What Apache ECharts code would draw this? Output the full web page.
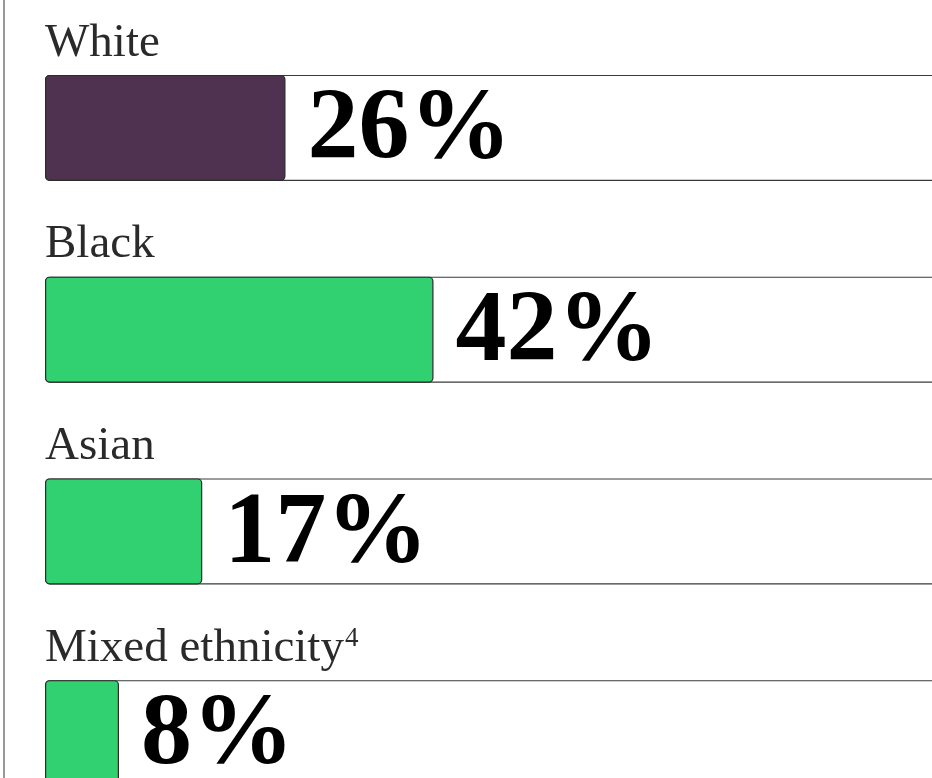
<!DOCTYPE html>
<html>
<head>
<meta charset="utf-8">
<style>
  html, body { margin: 0; padding: 0; background: #ffffff; }
  #chart { width: 932px; height: 778px; }
</style>
<script src="https://cdn.jsdelivr.net/npm/echarts@6/dist/echarts.min.js"></script>
</head>
<body>
<div id="chart"></div>
<script>
// Share of each ethnic group (percent)
const categories = ['White', 'Black', 'Asian', 'Mixed ethnicity'];
const footnotes = ['', '', '', '4'];
const values = [26, 42, 17, 8];
const barColors = ['#4f3250', '#31d071', '#31d071', '#31d071'];
const fullScale = 100;

const chart = echarts.init(document.getElementById('chart'), null, { renderer: 'canvas' });

const serif = '"Liberation Serif", "DejaVu Serif", serif';

chart.setOption({
  animation: false,
  backgroundColor: '#ffffff',
  // the tracks run past the right and bottom edges of the view
  grid: { left: 45, top: 27, width: 925, height: 807, outerBoundsMode: 'none', containLabel: false },
  xAxis: {
    type: 'value', min: 0, max: fullScale,
    show: false
  },
  yAxis: {
    type: 'category', data: categories, inverse: true,
    show: false
  },
  graphic: [{
    type: 'line',
    shape: { x1: 4, y1: 0, x2: 4, y2: 778 },
    style: { stroke: '#555555', lineWidth: 1.2 }
  }],
  series: [
    {
      // full-width track behind each bar, carrying the group name above it
      type: 'bar',
      data: categories.map(() => fullScale),
      barWidth: 106,
      barGap: '-100%',
      silent: true,
      itemStyle: { color: '#ffffff', borderColor: '#3a3a3a', borderWidth: 1.2, borderRadius: 4 },
      label: {
        show: true,
        position: [0, -8],
        align: 'left',
        verticalAlign: 'bottom',
        formatter: (p) => {
          const note = footnotes[p.dataIndex];
          return note ? p.name + '{sup|' + note + '}' : p.name;
        },
        fontFamily: serif,
        fontSize: 47,
        color: '#2a2a2a',
        rich: {
          sup: { fontFamily: serif, fontSize: 27, color: '#2a2a2a', verticalAlign: 'top', padding: [0, 0, 19, 1] }
        }
      },
      z: 1
    },
    {
      type: 'bar',
      data: values.map((v, i) => ({ value: v, itemStyle: { color: barColors[i] } })),
      barWidth: 106,
      itemStyle: { borderColor: '#2b2b2b', borderWidth: 1.2, borderRadius: 4 },
      label: {
        show: true,
        position: 'right',
        distance: 22,
        offset: [0, 4],
        formatter: (p) => p.value + '%',
        fontFamily: serif,
        fontWeight: 'bold',
        fontSize: 102,
        color: '#000000'
      },
      z: 2
    }
  ]
});
</script>
</body>
</html>
